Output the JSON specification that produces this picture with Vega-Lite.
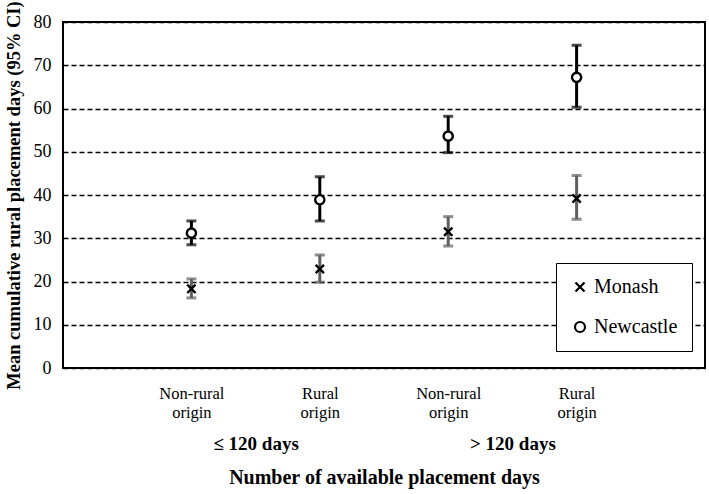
{
  "$schema": "https://vega.github.io/schema/vega-lite/v6.json",
  "width": 642,
  "height": 346,
  "autosize": {"type": "none"},
  "padding": {"left": 63, "top": 22, "right": 4, "bottom": 126},
  "background": "white",
  "config": {
    "view": {"stroke": "black", "strokeWidth": 2},
    "font": "Liberation Serif, Times New Roman, serif"
  },
  "data": {
    "values": [
      {"pos": 1, "uni": "Monash", "mean": 18.3, "lo": 16.2, "hi": 20.6},
      {"pos": 2, "uni": "Monash", "mean": 22.9, "lo": 19.8, "hi": 26.1},
      {"pos": 3, "uni": "Monash", "mean": 31.5, "lo": 28.2, "hi": 35.0},
      {"pos": 4, "uni": "Monash", "mean": 39.2, "lo": 34.4, "hi": 44.5},
      {"pos": 1, "uni": "Newcastle", "mean": 31.2, "lo": 28.5, "hi": 34.0},
      {"pos": 2, "uni": "Newcastle", "mean": 38.9, "lo": 34.0, "hi": 44.2},
      {"pos": 3, "uni": "Newcastle", "mean": 53.6, "lo": 49.8, "hi": 58.2},
      {"pos": 4, "uni": "Newcastle", "mean": 67.2, "lo": 60.3, "hi": 74.6}
    ]
  },
  "layer": [
    {
      "mark": {"type": "errorbar", "ticks": {"size": 10, "thickness": 3}, "thickness": 3},
      "encoding": {
        "x": {
          "field": "pos",
          "type": "quantitative",
          "scale": {"domain": [0, 5], "nice": false, "zero": false},
          "axis": {
            "values": [1, 1.5, 2, 3, 3.5, 4],
            "labelExpr": "datum.value == 1 || datum.value == 3 ? ['Non-rural', 'origin'] : datum.value == 2 || datum.value == 4 ? ['Rural', 'origin'] : datum.value == 1.5 ? '≤ 120 days' : '> 120 days'",
            "grid": false,
            "ticks": false,
            "domain": false,
            "labelOverlap": false,
            "labelFlush": false,
            "labelFont": "Liberation Serif, Times New Roman, serif",
            "labelColor": "black",
            "labelLineHeight": 19,
            "labelFontSize": {"condition": {"test": "datum.value == 1.5 || datum.value == 3.5", "value": 19}, "value": 16.5},
            "labelFontWeight": {"condition": {"test": "datum.value == 1.5 || datum.value == 3.5", "value": "bold"}, "value": "normal"},
            "labelPadding": {"condition": {"test": "datum.value == 1.5 || datum.value == 3.5", "value": 66}, "value": 17},
            "title": "Number of available placement days",
            "titleFont": "Liberation Serif, Times New Roman, serif",
            "titleFontSize": 20,
            "titleFontWeight": "bold",
            "titleColor": "black",
            "titlePadding": 14
          }
        },
        "y": {
          "field": "lo",
          "type": "quantitative",
          "scale": {"domain": [0, 80], "nice": false},
          "axis": {
            "values": [0, 10, 20, 30, 40, 50, 60, 70, 80],
            "grid": true,
            "gridColor": "black",
            "gridDash": [5, 3],
            "gridWidth": 1.3,
            "ticks": false,
            "domain": false,
            "labelFont": "Liberation Serif, Times New Roman, serif",
            "labelFontSize": 18,
            "labelColor": "black",
            "labelPadding": 12,
            "title": "Mean cumulative rural placement days (95% CI)",
            "titleFont": "Liberation Serif, Times New Roman, serif",
            "titleFontSize": 18.5,
            "titleFontWeight": "bold",
            "titleColor": "black",
            "titlePadding": 10
          }
        },
        "y2": {"field": "hi"},
        "color": {"condition": {"test": "datum.uni == 'Monash'", "value": "#5f5f5f"}, "value": "black"}
      }
    },
    {
      "mark": {"type": "point", "filled": false, "fill": "white", "color": "black", "strokeWidth": 2.4, "size": 85, "opacity": 1},
      "encoding": {
        "x": {"field": "pos", "type": "quantitative"},
        "y": {"field": "mean", "type": "quantitative"},
        "shape": {
          "field": "uni",
          "type": "nominal",
          "scale": {"domain": ["Monash", "Newcastle"], "range": ["M-0.9,-0.9L0.9,0.9M-0.9,0.9L0.9,-0.9", "circle"]},
          "legend": {
            "title": null,
            "orient": "none",
            "legendX": 493,
            "legendY": 241,
            "fillColor": "white",
            "strokeColor": "black",
            "padding": 14,
            "rowPadding": 20,
            "symbolStrokeWidth": 2.2,
            "labelFontSize": 20,
            "labelColor": "black",
            "labelFont": "Liberation Serif, Times New Roman, serif"
          }
        }
      }
    }
  ]
}
